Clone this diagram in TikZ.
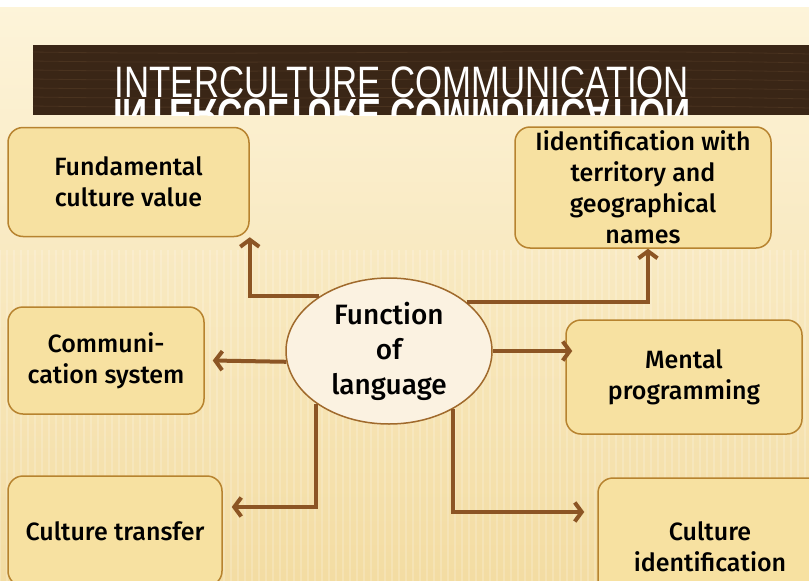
\documentclass[tikz,border=0pt]{standalone}
\usepackage{fontspec}
\setmainfont{Fira Sans}[UprightFont={* Medium}]
\newfontfamily\titlefont{Liberation Sans}
\usetikzlibrary{calc,arrows.meta,shapes.geometric}
\definecolor{bgtop}{HTML}{FDF4DA}
\definecolor{bgbot}{HTML}{F3DCA2}
\definecolor{wood}{HTML}{3A2616}
\definecolor{woodlight}{HTML}{5A4029}
\definecolor{boxfill}{HTML}{F7E1A1}
\definecolor{boxline}{HTML}{B7832F}
\definecolor{ellfill}{HTML}{FBF2E1}
\definecolor{ellline}{HTML}{A06A2C}
\definecolor{arrowcol}{HTML}{8C5524}

\begin{document}
\begin{tikzpicture}[x=1pt,y=-1pt,
	box/.style={draw=boxline,fill=boxfill,line width=1.5pt,rounded corners=15pt,
		inner sep=0pt,align=center,font=\fontsize{25}{31}\selectfont},
	arr/.style={draw=arrowcol,line width=4pt,-{Straight Barb[length=7pt,width=19pt]}}]
		\useasboundingbox (0,0) rectangle (809,581);
		\clip (0,0) rectangle (809,581);
		%background
		\shade[top color=bgtop,bottom color=bgbot] (0,0) rectangle (809,581);
		\fill[white] (0,0) rectangle (809,7);
		\foreach \i in {0,7,...,809}{
			\draw[white,opacity=0.18,line width=2.5pt] (\i,250) -- (\i,581);
		}
		
		%title bar
		\fill[wood] (33,45) rectangle (809,115);
		\foreach \j in {52,61,...,110}{
			\draw[woodlight,opacity=0.5,line width=0.8pt] (33,\j) .. controls (300,\j+4) and (550,\j-4) .. (809,\j+2);
		}
		\node[font=\titlefont\fontsize{44}{44}\selectfont,text=white,anchor=base] (ttl) at (402,97) {\scalebox{0.79}[1]{INTERCULTURE COMMUNICATION}};
		\begin{scope}
			\clip (33,45) rectangle (809,115);
			\begin{scope}[shift={(402,99)},yscale=-1]
				\node[transform shape,font=\titlefont\bfseries\fontsize{44}{44}\selectfont,text=white,anchor=base] (rfl) at (0,0) {\scalebox{0.79}[1]{INTERCULTURE COMMUNICATION}};
			\end{scope}
		\end{scope}
		
		%boxes
		\node[box,minimum width=241pt,minimum height=109pt] (fcv) at (128.5,182) {Fundamental\\culture value};
		\node[box,minimum width=256pt,minimum height=121pt] (iwt) at (643,187.5) {Iidentification with\\territory and\\geographical\\names};
		\node[box,minimum width=196pt,minimum height=107pt] (cms) at (106,360.5) {Communi-\\cation system};
		\node[box,minimum width=236pt,minimum height=114pt] (mpr) at (684,377) {Mental\\programming};
		\node[box,minimum width=214pt,minimum height=110pt] (ctr) at (115,531) {Culture transfer};
		\node[box,minimum width=224pt,minimum height=138pt] (cid) at (710,547) {Culture\\identification};
		
		%center
		\node[ellipse,draw=ellline,fill=ellfill,line width=1.5pt,minimum width=206pt,minimum height=146pt,
			inner sep=0pt,align=center,font=\fontsize{28}{35}\selectfont] (fol) at (389,351) {Function\\of\\language};
		
		%arrows:
		\draw[arr] (fol.142) -| (fcv.south east);
		\draw[arr] (fol.32) -| ([xshift=5pt]iwt.south);
		\draw[arr] (fol.186) -- ([xshift=8pt]cms.east);
		\draw[arr] (fol.east) -- ($(mpr.west |- fol.east)+(7,0)$);
		\draw[arr] (fol.216) |- ([xshift=9pt,yshift=24pt]ctr.east);
		\draw[arr] (fol.318) |- ([xshift=-13pt,yshift=35pt]cid.west);
		
\end{tikzpicture}
\end{document}
